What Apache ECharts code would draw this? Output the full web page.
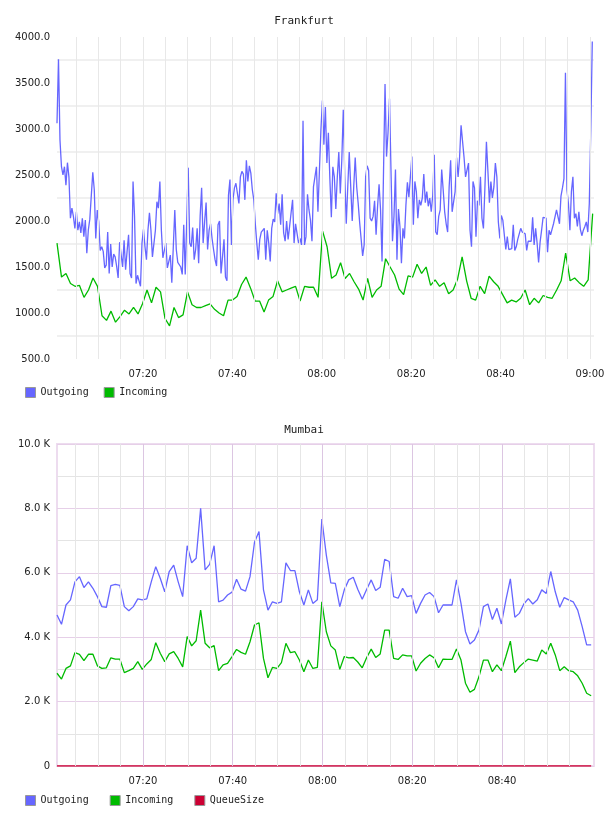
<!DOCTYPE html>
<html>
<head>
<meta charset="utf-8">
<script src="https://cdn.jsdelivr.net/npm/echarts@6.0.0/dist/echarts.min.js"></script>
<style>
html, body { margin: 0; padding: 0; background: #fff; }
#main { width: 608px; height: 816px; }
</style>
</head>
<body>
<div id="main"></div>
<script>
// Frankfurt - outgoing is sampled about every 20 s, incoming once a minute
var fraOutgoing = [
  3062,3757,2880,2590,2500,2590,2390,2634,2480,2030,2140,2050,1920,2100,1900,1990,1870,2030,1830,2010,
  1650,1900,2020,2030,2530,2340,1810,2120,1990,1680,1720,1670,1490,1520,1880,1430,1750,1500,1640,1610,
  1510,1380,1770,1760,1500,1790,1470,1670,1850,1430,1380,2430,2050,1320,1410,1390,1290,1760,1910,1720,
  1580,1900,2090,1900,1610,1590,1900,2210,2140,2430,1900,1600,1600,1760,1490,1500,1630,1330,1720,2120,
  1690,1550,1560,1500,1420,1960,1420,1420,2580,
  1760,1720,1930,1580,1690,1920,1540,2050,2360,1760,1990,2200,1690,1900,1970,1810,1690,1580,1510,1960,
  2000,1430,1610,1800,1390,1350,2280,2450,1740,2230,2360,2410,2430,2190,2480,2540,2510,2230,2660,2430,
  2600,2520,2340,2230,1970,1760,1580,1800,1880,1890,1920,1580,1900,1760,1560,1920,2020,1990,2300,2080,
  2190,1960,2290,1870,1780,2000,1800,1940,2090,2230,1760,1970,1970,1760,1810,1740,3090,1740,1830,2290,
  2120,2010,1780,2370,2480,2590,2100,2550,2990,3310,
  2830,3240,2630,2960,2460,2040,2590,2480,2130,2480,2750,2300,2660,3210,2480,1970,2370,2750,2370,2000,
  2370,2690,2370,2190,1980,1970,1620,1740,2480,2600,2550,2030,2000,2050,2220,1850,2160,2400,2120,1560,
  2550,3490,2700,2960,3330,2550,1780,2050,2560,1580,2130,1940,1540,1920,1810,2170,2420,2260,2260,2700,
  1960,2430,2320,2030,2230,2170,2250,2510,2200,2320,2160,2250,2100,2280,2720,1880,1850,2050,2120,2560,
  2340,2100,1970,1880,2370,2660,2100,2080,2320,2690,
  2480,2690,3040,3040,2690,2480,2480,2630,1900,1720,2430,2360,1830,2220,2170,2480,2030,1920,2370,2860,
  2540,2200,2430,2250,2370,2630,2480,1990,1810,2060,2010,2020,1690,1830,1690,1700,1700,1960,1680,1720,
  1800,1790,1920,1880,1870,1860,1680,1780,1760,1780,2040,1740,1920,1760,1550,1770,1900,2040,2050,2030,
  1660,1900,1850,1860,1970,1980,2120,2100,1970,2270,2360,2460,3610,2340,2190,1900,2320,2480,2030,2080,
  1940,2100,1910,1840,1900,1940,1990,1880,2190,2990,3950
];
var fraIncoming = [
  1760,1390,1430,1320,1290,1300,1170,1250,1380,1290,970,920,1020,900,960,1030,990,1060,990,1100,
  1250,1110,1280,1230,940,860,1060,950,980,1230,1090,1060,1060,1080,1100,1040,1000,970,1140,1140,
  1180,1310,1390,1270,1130,1130,1010,1140,1180,1350,1230,1250,1270,1290,1130,1290,1280,1280,1170,1890,
  1720,1377,1413,1547,1375,1430,1340,1260,1140,1377,1170,1250,1290,1590,1500,1413,1260,1200,1404,1390,
  1530,1430,1500,1300,1360,1290,1330,1210,1250,1370,1610,1350,1160,1140,1290,1210,1400,1340,1290,1200,
  1110,1140,1120,1160,1250,1090,1160,1110,1190,1170,1160,1250,1350,1650,1350,1380,1330,1290,1360,2080
];

// Mumbai - one sample a minute
var mumOutgoing = [
  4690,4400,5000,5160,5720,5880,5540,5720,5520,5260,4950,4930,5600,5640,5610,4950,4820,4950,5190,5160,
  5190,5720,6190,5830,5410,6040,6240,5720,5260,6840,6310,6450,8000,6090,6260,6840,5100,5150,5310,5400,
  5800,5490,5430,5880,6950,7280,5470,4840,5100,5050,5100,6310,6070,6070,5410,5000,5470,5050,5160,7670,
  6550,5690,5670,4950,5470,5780,5860,5490,5180,5490,5780,5450,5550,6420,6350,5260,5210,5520,5260,5290,
  4740,5050,5310,5390,5260,4760,5000,5000,5000,5780,5050,4170,3790,3910,4220,4950,5030,4550,4900,4410,
  5150,5810,4620,4740,5030,5200,5030,5160,5470,5360,6040,5410,4930,5230,5160,5100,4840,4330,3760,3760
];
var mumIncoming = [
  2880,2700,3030,3110,3520,3470,3270,3470,3470,3110,3030,3050,3360,3320,3320,2900,2960,3030,3240,3000,
  3170,3310,3830,3500,3240,3480,3550,3340,3080,4020,3730,3890,4840,3810,3670,3740,2960,3140,3190,3400,
  3620,3530,3470,3860,4380,4450,3340,2740,3060,3030,3210,3810,3520,3550,3290,2930,3290,3030,3060,5100,
  4170,3730,3600,3000,3400,3360,3370,3230,3050,3370,3630,3370,3480,4220,4220,3340,3310,3450,3420,3420,
  2950,3190,3340,3450,3360,3050,3320,3310,3310,3630,3290,2570,2290,2380,2770,3290,3290,2930,3140,2960,
  3400,3880,2900,3080,3210,3320,3290,3260,3600,3480,3810,3450,2960,3080,2960,2930,2800,2570,2260,2180
];
var mumQueueSize = [
  0,0,0,0,0,0,0,0,0,0,0,0,0,0,0,0,0,0,0,0,
  0,0,0,0,0,0,0,0,0,0,0,0,0,0,0,0,0,0,0,0,
  0,0,0,0,0,0,0,0,0,0,0,0,0,0,0,0,0,0,0,0,
  0,0,0,0,0,0,0,0,0,0,0,0,0,0,0,0,0,0,0,0,
  0,0,0,0,0,0,0,0,0,0,0,0,0,0,0,0,0,0,0,0,
  0,0,0,0,0,0,0,0,0,0,0,0,0,0,0,0,0,0,0,0
];

var fraTimeLabels = ['07:20', '07:40', '08:00', '08:20', '08:40', '09:00'];
var mumTimeLabels = ['07:20', '07:40', '08:00', '08:20', '08:40'];
var seriesNames = ['Outgoing', 'Incoming', 'QueueSize'];
var seriesColors = ['#6666ff', '#00bb00', '#cc0033'];

// x is in minutes after 07:00
function mins(h, m, s) {
  return (h - 7) * 60 + m + s / 60;
}
// spread the samples evenly between first and last sample time
function spread(values, t0, t1) {
  var step = (t1 - t0) / (values.length - 1);
  return values.map(function (v, i) { return [t0 + i * step, v]; });
}
function pad(n) { return (n < 10 ? '0' : '') + n; }
function timeFmt(labels) {
  return function (v) {
    if (Math.abs(v - Math.round(v)) > 1e-6) return '';
    var m = Math.round(v);
    var s = pad(7 + Math.floor(m / 60)) + ':' + pad(m % 60);
    return labels.indexOf(s) < 0 ? '' : s;
  };
}
// vertical grid lines every 5 minutes
function gridLines(m0, m1, colorFn) {
  var out = [];
  for (var m = m0; m <= m1; m += 5) {
    out.push({ xAxis: m, lineStyle: { color: colorFn(m), width: 1, type: 'solid' } });
  }
  return out;
}

var labelFont = { color: '#222', fontSize: 10, fontFamily: 'DejaVu Sans' };
var monoFont = 'DejaVu Sans Mono';

var myChart = echarts.init(document.getElementById('main'), null, { renderer: 'canvas' });

function xAxisFor(gridIndex, min, max, labels) {
  return {
    type: 'value', gridIndex: gridIndex, min: min, max: max, splitNumber: 6,
    axisLine: { show: false }, axisTick: { show: false }, splitLine: { show: false },
    axisLabel: Object.assign({ formatter: timeFmt(labels), margin: 10, showMinLabel: false, showMaxLabel: false }, labelFont)
  };
}

var option = {
  animation: false,
  backgroundColor: '#fff',
  title: [
    { text: 'Frankfurt', left: 'center', top: 16, padding: 0,
      textStyle: { fontFamily: monoFont, fontSize: 11, fontWeight: 'normal', color: '#222' } },
    { text: 'Mumbai', left: 'center', top: 425, padding: 0,
      textStyle: { fontFamily: monoFont, fontSize: 11, fontWeight: 'normal', color: '#222' } }
  ],
  legend: [
    { data: seriesNames.slice(0, 2), left: 25, top: 387, padding: 0, itemGap: 15,
      itemWidth: 10, itemHeight: 10, icon: 'rect',
      itemStyle: { borderColor: '#999', borderWidth: 1 },
      textStyle: { fontFamily: monoFont, fontSize: 10, color: '#222' } },
    { data: seriesNames, left: 25, top: 795, padding: 0, itemGap: 21,
      itemWidth: 10, itemHeight: 10, icon: 'rect',
      itemStyle: { borderColor: '#999', borderWidth: 1 },
      textStyle: { fontFamily: monoFont, fontSize: 10, color: '#222' } }
  ],
  grid: [
    { left: 57, top: 37, width: 537, height: 322, show: false },
    { left: 57, top: 444, width: 537, height: 322, show: true,
      borderColor: '#eddcef', borderWidth: 2, backgroundColor: 'transparent' }
  ],
  xAxis: [
    xAxisFor(0, mins(7, 0, 46), mins(9, 0, 54), fraTimeLabels),
    xAxisFor(1, mins(7, 0, 51), mins(9, 0, 29), mumTimeLabels)
  ],
  yAxis: [
    { type: 'value', gridIndex: 0, min: 500, max: 4000, interval: 500,
      axisLine: { show: false }, axisTick: { show: false },
      splitLine: { show: false },
      minorTick: { show: false, splitNumber: 2 },
      minorSplitLine: { show: true, lineStyle: { color: '#f0f0f0', width: 2 } },
      axisLabel: Object.assign({ margin: 7, formatter: function (v) { return v.toFixed(1); } }, labelFont) },
    { type: 'value', gridIndex: 1, min: 0, max: 10000, interval: 2000,
      axisLine: { show: false }, axisTick: { show: false },
      splitLine: { show: true, lineStyle: { color: '#e6cfe8', width: 1 } },
      minorTick: { show: false, splitNumber: 2 },
      minorSplitLine: { show: true, lineStyle: { color: '#e4e4e4', width: 1 } },
      axisLabel: Object.assign({ margin: 7, formatter: function (v) {
        return v === 0 ? '0' : (v / 1000).toFixed(1) + ' K';
      } }, labelFont) }
  ],
  series: [
    // grid helpers (vertical 5 minute lines)
    { type: 'line', xAxisIndex: 0, yAxisIndex: 0, data: [], silent: true, z: 1,
      markLine: { silent: true, symbol: 'none', label: { show: false }, animation: false,
        data: gridLines(5, 120, function () { return '#e8e8e8'; }) } },
    { type: 'line', xAxisIndex: 1, yAxisIndex: 1, data: [], silent: true, z: 1,
      markLine: { silent: true, symbol: 'none', label: { show: false }, animation: false,
        data: gridLines(5, 115, function (m) {
          return m % 20 === 0 ? '#dcc6e2' : '#e6e6e6';
        }) } },

    { name: 'Outgoing', type: 'line', xAxisIndex: 0, yAxisIndex: 0, z: 3,
      data: spread(fraOutgoing, mins(7, 0, 46), mins(9, 0, 31)),
      showSymbol: false, symbol: 'none', color: seriesColors[0],
      lineStyle: { width: 1.3, color: seriesColors[0] } },
    { name: 'Incoming', type: 'line', xAxisIndex: 0, yAxisIndex: 0, z: 3,
      data: spread(fraIncoming, mins(7, 0, 46), mins(9, 0, 36)),
      showSymbol: false, symbol: 'none', color: seriesColors[1],
      lineStyle: { width: 1.3, color: seriesColors[1] } },

    { name: 'Outgoing', type: 'line', xAxisIndex: 1, yAxisIndex: 1, z: 3,
      data: spread(mumOutgoing, mins(7, 0, 51), mins(8, 59, 51)),
      showSymbol: false, symbol: 'none', color: seriesColors[0],
      lineStyle: { width: 1.3, color: seriesColors[0] } },
    { name: 'Incoming', type: 'line', xAxisIndex: 1, yAxisIndex: 1, z: 3,
      data: spread(mumIncoming, mins(7, 0, 51), mins(8, 59, 51)),
      showSymbol: false, symbol: 'none', color: seriesColors[1],
      lineStyle: { width: 1.3, color: seriesColors[1] } },
    { name: 'QueueSize', type: 'line', xAxisIndex: 1, yAxisIndex: 1, z: 3,
      data: spread(mumQueueSize, mins(7, 0, 51), mins(8, 59, 51)),
      showSymbol: false, symbol: 'none', color: seriesColors[2],
      lineStyle: { width: 1.5, color: seriesColors[2] } }
  ]
};
myChart.setOption(option);
</script>
</body>
</html>
